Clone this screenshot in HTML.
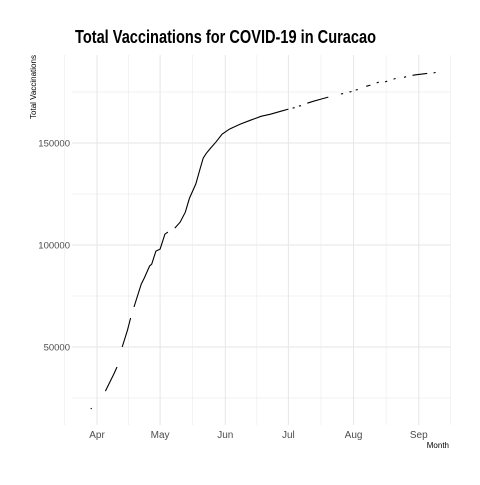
<!DOCTYPE html>
<html><head><meta charset="utf-8"><style>
body{margin:0;background:#fff;font-family:"Liberation Sans",sans-serif}
</style></head><body>
<svg id="c" width="480" height="480">
<text x="75" y="43" font-size="18" font-weight="bold" fill="#000" textLength="301" lengthAdjust="spacingAndGlyphs">Total Vaccinations for COVID-19 in Curacao</text>
<text transform="translate(36,87) rotate(-90)" text-anchor="middle" font-size="8" fill="#000">Total Vaccinations</text>
<text x="449" y="448" text-anchor="end" font-size="8" fill="#000">Month</text>
<g id="grid"></g><g id="ticks"></g><g id="line"></g>
</svg>
<script>
const monthLabels=["Apr","May","Jun","Jul","Aug","Sep"];
const monthDays=[0,30,61,91,122,153];
const yTicks=[50000,100000,150000];
const days=[-3,-2.5,null,4,8,9.5,null,12,14.5,16,null,17.6,21,22.5,25,26,28,30,32.3,33.7,null,37,39.5,42,44,47,49,50.5,52,54,56.5,59.5,63,68,73,78,82.5,87.5,91,null,93,94,null,96,97,null,100,103,106.5,110,null,116,117,null,120,121,null,123,124,null,128,130,null,133,134,null,137,138,null,141,142,null,146,147,null,150,152,157,null,160,161];
const vals=[19600,20000,null,28400,36700,40200,null,50000,58300,64200,null,69600,80800,83800,89700,90600,97000,98000,105300,106300,null,108300,111200,116100,123000,129900,137200,142600,145000,147500,150400,154300,156800,159200,161200,163100,164100,165600,166600,null,167100,167300,null,168100,168300,null,169500,170500,171500,172500,null,174000,174200,null,175000,175200,null,176000,176200,null,177800,178400,null,179500,179800,null,180000,180300,null,181300,181600,null,182200,182500,null,183200,183500,184100,null,184300,184600];
const X=d=>97+d*2.103, Y=v=>449-v*102/50000;
const ns="http://www.w3.org/2000/svg";
function mk(t,a,p){const e=document.createElementNS(ns,t);for(const k in a)e.setAttribute(k,a[k]);p.appendChild(e);return e;}
const g=document.getElementById('grid'),tk=document.getElementById('ticks'),ln=document.getElementById('line');
for(let v=25000;v<=175000;v+=25000){const l=mk('line',{x1:72,x2:450,y1:Y(v),y2:Y(v),stroke:'#e6e6e6','stroke-width':v%50000?0.6:1},g);

}
const minorX=[-15.5,15,45.5,76,106.5,137.5,168];
minorX.forEach(d=>{const l=mk('line',{x1:X(d),x2:X(d),y1:55,y2:425,stroke:'#ebebeb','stroke-width':0.6},g);

});
monthDays.forEach((d,i)=>{const l=mk('line',{x1:X(d),x2:X(d),y1:55,y2:425,stroke:'#e6e6e6','stroke-width':1},g);


const t=mk('text',{x:X(d),y:438,'text-anchor':'middle','font-size':10,fill:'#4d4d4d'},tk);t.textContent=monthLabels[i];

});
yTicks.forEach(v=>{const t=mk('text',{x:70,y:Y(v)+3.5,'text-anchor':'end','font-size':9.5,fill:'#4d4d4d'},tk);t.textContent=v;

});
let seg=[];const flush=()=>{if(seg.length>1){const p=mk('path',{d:'M'+seg.join('L'),fill:'none',stroke:'#000','stroke-width':1.1},ln);

}seg=[];};
days.forEach((d,i)=>{if(d===null||vals[i]===null){flush();}else seg.push(X(d).toFixed(1)+','+Y(vals[i]).toFixed(1));});flush();
</script>
</body></html>
